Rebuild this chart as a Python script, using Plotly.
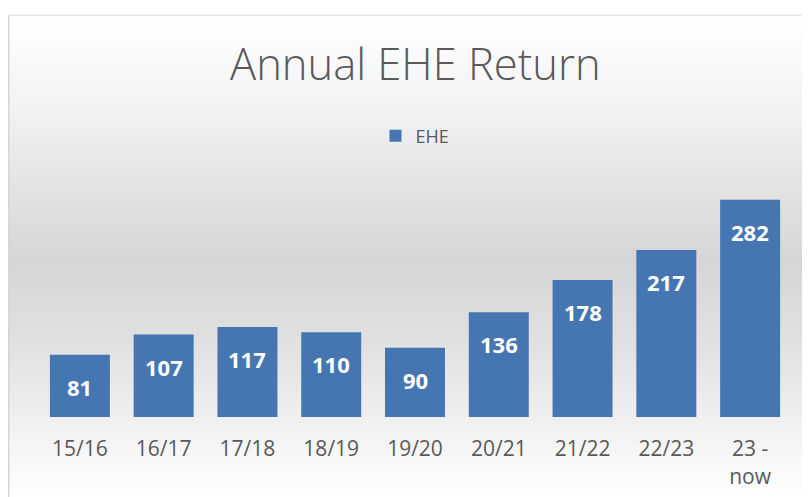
import plotly.graph_objects as go

# ---- data ----
categories = ["15/16", "16/17", "17/18", "18/19", "19/20", "20/21", "21/22", "22/23", "23 - now"]
tick_labels = ["15/16", "16/17", "17/18", "18/19", "19/20", "20/21", "21/22", "22/23", "23 -<br>now"]
ehe_values = [81, 107, 117, 110, 90, 136, 178, 217, 282]
series_name = "EHE"
title_text = "Annual EHE Return"

# ---- layout geometry ----
OFFX, OFFY = 8, 8  # page body margin
W, H = 810 - OFFX, 497 - OFFY
ML, MR, MT, MB = 38 - OFFX, 18, 186 - OFFY, 80
PW, PH = W - ML - MR, H - MT - MB


def px_x(px):
    # screen pixel x -> paper x
    return (px - OFFX - ML) / PW


def px_y(py):
    # screen pixel y -> paper y
    return (H - MB - (py - OFFY)) / PH


# background gradient stops (screen y, grey level)
stops = [(15, 255), (100, 244), (180, 228), (262, 214), (340, 224), (420, 240), (470, 250), (494, 253)]


def grey_at(y):
    for (y0, g0), (y1, g1) in zip(stops[:-1], stops[1:]):
        if y0 <= y <= y1:
            t = (y - y0) / (y1 - y0)
            return round(g0 + (g1 - g0) * t)
    return 255


shapes = []
step = 3
y = 15
while y < 494:
    g = grey_at(y + step / 2)
    shapes.append(dict(type="rect", xref="paper", yref="paper",
                       x0=px_x(9), x1=px_x(830), y0=px_y(min(y + step + 0.6, 494)), y1=px_y(y),
                       fillcolor=f"rgb({g},{g},{g})", line=dict(width=0), layer="below"))
    y += step
# chart border
shapes.append(dict(type="line", xref="paper", yref="paper", x0=px_x(8), x1=px_x(830),
                   y0=px_y(15.5), y1=px_y(15.5), line=dict(color="#e3e3e3", width=1.5), layer="below"))
shapes.append(dict(type="line", xref="paper", yref="paper", x0=px_x(8.5), x1=px_x(8.5),
                   y0=px_y(15), y1=px_y(497), line=dict(color="#d6d6d6", width=2), layer="below"))

fig = go.Figure()
fig.add_trace(go.Bar(
    x=categories, y=ehe_values, name=series_name,
    marker=dict(color="#4676b2", line=dict(width=0)),
    showlegend=True,
))

annotations = []
for c, v in zip(categories, ehe_values):
    annotations.append(dict(x=c, y=v, xref="x", yref="y", text=str(v), showarrow=False,
                            yshift=-32, yanchor="middle",
                            font=dict(family="Open Sans", size=22, color="white", weight="bold")))
annotations.append(dict(x=px_x(415), y=px_y(64), xref="paper", yref="paper", text=title_text,
                        showarrow=False, xanchor="center", yanchor="middle",
                        font=dict(family="Open Sans", size=43.5, color="#595959", weight=300)))

fig.update_layout(
    width=W, height=H,
    margin=dict(l=ML, r=MR, t=MT, b=MB, pad=0, autoexpand=False),
    paper_bgcolor="white",
    plot_bgcolor="rgba(0,0,0,0)",
    bargap=0.284,
    shapes=shapes,
    annotations=annotations,
    showlegend=True,
    legend=dict(orientation="h", x=px_x(415), y=px_y(136), xanchor="center", yanchor="middle",
                bgcolor="rgba(0,0,0,0)",
                font=dict(family="Open Sans", size=18, color="#595959")),
    xaxis=dict(tickmode="array", tickvals=categories, ticktext=tick_labels,
               ticks="outside", ticklen=13, tickcolor="rgba(0,0,0,0)", automargin=False,
               showline=False, showgrid=False, zeroline=False,
               tickfont=dict(family="Open Sans", size=21, color="#595959")),
    yaxis=dict(range=[0, 300], visible=False, showgrid=False, zeroline=False, automargin=False),
)

fig.write_html("out.html")
